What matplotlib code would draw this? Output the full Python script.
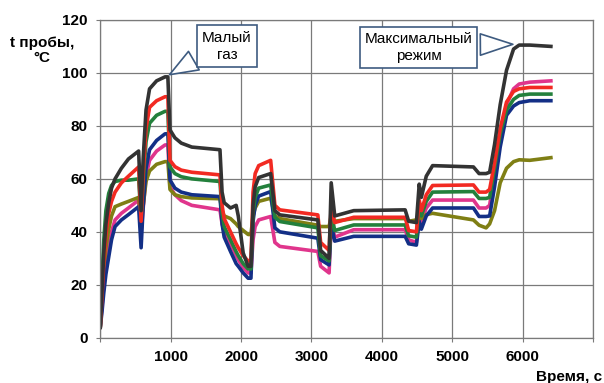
import numpy as np
import matplotlib
matplotlib.use("Agg")
import matplotlib.pyplot as plt

plt.rcParams['font.family'] = ['Liberation Sans', 'DejaVu Sans']

# time, s (common for all channels)
t = [0, 25, 50, 80, 120, 160, 210, 300, 400, 545,
     580, 610, 650, 700, 800, 920,
     960, 990, 1060, 1150, 1300, 1700,
     1730, 1760, 1850, 1930, 1960, 2030, 2100, 2140,
     2170, 2200, 2250, 2420,
     2480, 2550, 3090, 3130, 3250,
     3280, 3330, 3600, 4330, 4380, 4490, 4530, 4560, 4630, 4720, 5300, 5380, 5480,
     5530, 5600, 5680, 5770, 5870, 5950, 6100, 6400]

# sample temperature, °C
black = [4, 18, 32, 43, 51, 56.5, 60, 64, 67.5, 70.5,
         48, 68, 86, 94, 97, 98.5,
         98.5, 78.5, 75.5, 73.5, 72, 71,
         55, 51, 49, 50, 46, 32, 27, 27,
         50, 57, 60.5, 62,
         48, 46.4, 44.5, 33, 30,
         58.5, 46, 48, 48.3, 44, 43.5, 58, 53, 61, 65, 64.5, 62, 62,
         62.5, 73, 88, 101, 109, 110.5, 110.5, 110]
red = [4, 16, 28, 39, 47, 51.5, 55, 58.5, 61, 64.5,
       44, 62, 79, 87, 89.5, 91,
       91, 67, 64.6, 63.3, 62.5, 61.5,
       50, 45, 40, 35.5, 34, 31, 29, 29,
       55, 62, 65, 67,
       50, 48.3, 46.4, 36, 33,
       50, 43.5, 45.5, 45.5, 40.5, 40, 52, 48, 54, 57.5, 57.7, 55, 55,
       56, 66, 79, 89, 93, 94, 94.5, 94.5]
green = [4, 22, 37, 48, 54.5, 57.5, 59, 59.5, 59.5, 60,
         45, 59, 74, 81, 84, 85.5,
         85.5, 64.5, 62, 60.8, 60, 59,
         47, 42, 37, 32.5, 31, 28, 26, 26,
         47, 53, 56.5, 57.7,
         45.5, 43.9, 41.5, 31, 29,
         47, 40.5, 42.6, 42.6, 38.5, 38, 50, 46, 51.5, 55, 55.2, 52.6, 52.6,
         53, 64, 77, 86, 90, 91.5, 92, 92]
blue = [4, 10, 17, 24, 30.5, 37, 42, 44.5, 46.5, 49.5,
        34, 50, 64, 71, 74.5, 77,
        77, 59.6, 56.5, 55, 54, 53.3,
        43, 38, 32.6, 28, 27, 24.5, 22.5, 22.5,
        44, 50, 53.5, 55.2,
        41.5, 40, 37.6, 29.5, 27.5,
        43, 36.5, 38.3, 38.3, 35.5, 35, 44, 41, 46, 49, 49, 45.8, 45.8,
        46, 57, 72, 84, 87.5, 88.8, 89.5, 89.5]
pink = [4, 12, 20, 28, 34.5, 40, 44.5, 47, 49, 52,
        40, 49, 61, 67, 70.5, 72.8,
        72.8, 57, 54, 51.8, 50, 48.3,
        43, 40, 35.5, 31, 29.5, 26.5, 24.5, 24.5,
        37, 42, 44.5, 45.8,
        36, 34.5, 32.6, 27, 24.5,
        44, 38, 40.8, 40.8, 37, 36, 48, 44, 49, 52, 52, 49, 49,
        50, 62, 77, 88, 94, 95.8, 96.5, 97]
olive = [4, 14, 25, 34, 41, 46, 49.5, 50.5, 51.5, 53,
         44, 50, 59, 63, 65.5, 66.5,
         66.5, 56, 54, 53.3, 52.8, 52.5,
         48, 46, 45, 43, 42, 40.5, 39, 39,
         46, 49, 51.5, 52.7,
         46, 45, 42.5, 42, 42,
         46, 44, 45, 45, 44, 44.5, 47, 45, 46.5, 47, 44.5, 42.5, 41.5,
         43, 48, 58.5, 64, 66.5, 67.2, 67, 68]

series = [(pink, '#e0358c'), (olive, '#7f7f14'), (blue, '#132f86'),
          (green, '#23803c'), (red, '#f22a22'), (black, '#333333')]

fig = plt.figure(figsize=(6.04, 3.83), dpi=100)
ax = fig.add_axes([0.166, 0.118, 0.816, 0.83])

for vals, col in series:
    ax.plot(t, vals, color=col, lw=2.6, solid_joinstyle='round')

ax.set_xlim(0, 7000)
ax.set_ylim(0, 120)
ax.set_xticks(np.arange(0, 7001, 1000))
ax.set_xticklabels(['', '1000', '2000', '3000', '4000', '5000', '6000', ''])
ax.set_yticks(np.arange(0, 121, 20))
ax.grid(True, color='#7a7a7a', lw=0.9)
ax.set_axisbelow(True)
for s in ax.spines.values():
    s.set_color('#7a7a7a')
    s.set_linewidth(0.9)
ax.tick_params(length=3, color='#7a7a7a', labelsize=11, pad=6)
for lab in ax.get_xticklabels() + ax.get_yticklabels():
    lab.set_fontweight('bold')

fig.text(0.07, 0.869, 't пробы,\n°C', ha='center', va='center',
         fontsize=11, fontweight='bold', linespacing=1.1)
fig.text(0.997, 0.016, 'Время, с', ha='right', va='center',
         fontsize=11, fontweight='bold')

box_ec = '#3e5b80'
ax.annotate('Малый\nгаз', xy=(950, 98.8), xytext=(1800, 110),
            ha='center', va='center', multialignment='center',
            fontsize=11, linespacing=1.3,
            bbox=dict(boxstyle='square,pad=0.35', fc='white', ec=box_ec, lw=1.2),
            arrowprops=dict(arrowstyle='wedge,tail_width=1.4', fc='white',
                            ec=box_ec, lw=1.2, relpos=(0.0, 0.2)))
ax.annotate('Максимальный\nрежим', xy=(5900, 110.8), xytext=(4520, 109.5),
            ha='center', va='center', multialignment='center',
            fontsize=11, linespacing=1.3,
            bbox=dict(boxstyle='square,pad=0.3', fc='white', ec=box_ec, lw=1.2),
            arrowprops=dict(arrowstyle='wedge,tail_width=1.4', fc='white',
                            ec=box_ec, lw=1.2, relpos=(1.0, 0.6)))

fig.savefig('out.png', dpi=100)
